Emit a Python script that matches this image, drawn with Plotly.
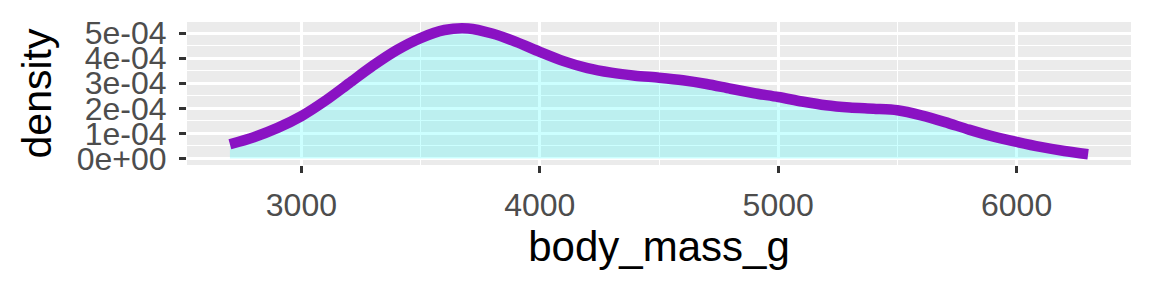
import plotly.graph_objects as go

body_mass_g = [2700, 2800, 2900, 3000, 3100, 3200, 3300, 3400, 3500, 3600, 3700,
               3800, 3900, 4000, 4100, 4200, 4300, 4400, 4500, 4600, 4700, 4800,
               4900, 5000, 5100, 5200, 5300, 5400, 5500, 5600, 5700, 5800, 5900,
               6000, 6100, 6200, 6300]
density = [0.57e-4, 0.85e-4, 1.22e-4, 1.69e-4, 2.30e-4, 3.00e-4, 3.70e-4, 4.32e-4,
           4.80e-4, 5.12e-4, 5.18e-4, 4.98e-4, 4.65e-4, 4.25e-4, 3.88e-4, 3.60e-4,
           3.42e-4, 3.30e-4, 3.22e-4, 3.12e-4, 2.97e-4, 2.78e-4, 2.60e-4, 2.45e-4,
           2.27e-4, 2.12e-4, 2.03e-4, 1.98e-4, 1.92e-4, 1.72e-4, 1.45e-4, 1.15e-4,
           0.88e-4, 0.66e-4, 0.46e-4, 0.30e-4, 0.17e-4]

x_ticks = [3000, 4000, 5000, 6000]
y_ticks = [0, 1e-4, 2e-4, 3e-4, 4e-4, 5e-4]
y_tick_labels = ["0e+00", "1e-04", "2e-04", "3e-04", "4e-04", "5e-04"]

x_pad = 0.05 * (max(body_mass_g) - min(body_mass_g))
y_pad = 0.05 * max(density)

fig = go.Figure()
fig.add_trace(go.Scatter(
    x=body_mass_g, y=density, mode="lines", fill="tozeroy",
    fillcolor="rgba(0,255,255,0.2)", line=dict(width=0, shape="spline", smoothing=0.8),
    hoverinfo="skip", showlegend=False))
fig.add_trace(go.Scatter(
    x=body_mass_g, y=density, mode="lines",
    line=dict(color="#8A12C3", width=10.5, shape="spline", smoothing=0.8),
    showlegend=False))

font_family = "Liberation Sans, Arial, sans-serif"
fig.update_layout(
    width=1152, height=288,
    margin=dict(l=187, r=21, t=22, b=123),
    paper_bgcolor="white", plot_bgcolor="#EBEBEB",
    font=dict(family=font_family, color="#4D4D4D"),
    xaxis=dict(
        range=[min(body_mass_g) - x_pad, max(body_mass_g) + x_pad],
        tickvals=x_ticks, ticks="outside", ticklen=7, tickwidth=3, tickcolor="#333333",
        tickfont=dict(size=32, color="#4D4D4D"), ticklabelstandoff=5,
        showgrid=True, gridcolor="white", gridwidth=2.5, zeroline=False, showline=False,
        minor=dict(dtick=500, tick0=2500, showgrid=True, gridcolor="white", gridwidth=1.2, ticks=""),
        title=dict(text="body_mass_g", font=dict(size=42, color="black"), standoff=6),
    ),
    yaxis=dict(
        range=[-y_pad, max(density) + y_pad],
        tickvals=y_ticks, ticktext=y_tick_labels, ticks="outside", ticklen=7, tickwidth=3,
        tickcolor="#333333", tickfont=dict(size=32, color="#4D4D4D"), ticklabelstandoff=6,
        showgrid=True, gridcolor="white", gridwidth=2.5, zeroline=False, showline=False,
        minor=dict(dtick=0.5e-4, tick0=0, showgrid=True, gridcolor="white", gridwidth=1.2, ticks=""),
        title=dict(text="density", font=dict(size=41, color="black"), standoff=12),
    ),
)
fig.write_html("out.html")
